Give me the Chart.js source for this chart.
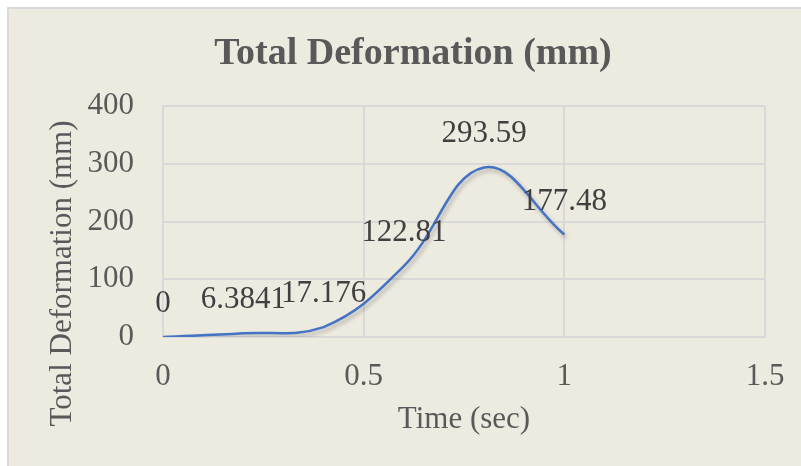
<!DOCTYPE html>
<html>
<head>
<meta charset="utf-8">
<script src="https://cdn.jsdelivr.net/npm/chart.js@4.4.1/dist/chart.umd.min.js"></script>
<style>
  html, body { margin: 0; padding: 0; background: #ffffff; }
  #wrap { position: relative; width: 801px; height: 466px; }
  canvas { display: block; }
</style>
</head>
<body>
<div id="wrap"><canvas id="c" width="801" height="466"></canvas></div>
<script>
// ---- data ----
const timeSec = [0, 0.2, 0.4, 0.6, 0.8, 1.0];
const deformationMm = [0, 6.3841, 17.176, 122.81, 293.59, 177.48];
const dataLabels = ['0', '6.3841', '17.176', '122.81', '293.59', '177.48'];
const xTickValues = [0, 0.5, 1, 1.5];
const xTickLabels = ['0', '0.5', '1', '1.5'];
const yTickValues = [0, 100, 200, 300, 400];
const chartTitle = 'Total Deformation (mm)';
const xAxisTitle = 'Time (sec)';
const yAxisTitle = 'Total Deformation (mm)';

const SERIF = "'Liberation Serif', 'Times New Roman', serif";
const TEXT_GREY = '#595959';
const GRID = '#D9D9D9';
const BG = '#EDEBE0';

const points = timeSec.map((t, i) => ({ x: t, y: deformationMm[i] }));

const frameBg = {
  id: 'frameBg',
  beforeDraw(chart) {
    const ctx = chart.ctx;
    ctx.save();
    ctx.fillStyle = '#ffffff';
    ctx.fillRect(0, 0, chart.width, chart.height);
    ctx.fillStyle = BG;
    ctx.fillRect(7, 7, chart.width - 7, chart.height - 7);
    ctx.strokeStyle = GRID;
    ctx.lineWidth = 2;
    ctx.beginPath();
    ctx.moveTo(8, chart.height);
    ctx.lineTo(8, 8);
    ctx.lineTo(chart.width, 8);
    ctx.stroke();
    ctx.restore();
  }
};

const lineShadow = {
  id: 'lineShadow',
  beforeDatasetDraw(chart) {
    const ctx = chart.ctx;
    ctx.save();
    ctx.shadowColor = 'rgba(0,0,0,0.28)';
    ctx.shadowBlur = 4;
    ctx.shadowOffsetX = 2;
    ctx.shadowOffsetY = 3;
  },
  afterDatasetDraw(chart) {
    chart.ctx.restore();
  }
};

const extraText = {
  id: 'extraText',
  afterDatasetsDraw(chart) {
    const ctx = chart.ctx;
    const xs = chart.scales.x, ys = chart.scales.y;
    ctx.save();
    // data labels above points
    ctx.font = '31px ' + SERIF;
    ctx.fillStyle = '#404040';
    ctx.textAlign = 'center';
    ctx.textBaseline = 'alphabetic';
    timeSec.forEach((t, i) => {
      const px = xs.getPixelForValue(t);
      const py = ys.getPixelForValue(deformationMm[i]);
      ctx.fillText(dataLabels[i], px, py - 25);
    });
    // y axis title
    ctx.translate(62.5, 273.5);
    ctx.rotate(-Math.PI / 2);
    ctx.textBaseline = 'middle';
    ctx.fillStyle = TEXT_GREY;
    ctx.fillText(yAxisTitle, 0, 0);
    ctx.restore();
  }
};

new Chart(document.getElementById('c'), {
  type: 'scatter',
  data: {
    datasets: [{
      label: 'Total Deformation',
      data: points,
      showLine: true,
      borderColor: '#4472C4',
      backgroundColor: '#4472C4',
      borderWidth: 2.5,
      pointRadius: 0,
      pointHoverRadius: 0,
      tension: 0.4,
      fill: false
    }]
  },
  options: {
    responsive: false,
    animation: false,
    layout: { padding: { left: 61, right: 36, top: 0, bottom: 0 } },
    plugins: {
      legend: { display: false },
      tooltip: { enabled: false },
      title: {
        display: true,
        text: chartTitle,
        color: TEXT_GREY,
        font: { family: SERIF, size: 38, weight: 'bold', lineHeight: 1.2 },
        padding: { top: 31, bottom: 29.4 }
      }
    },
    scales: {
      x: {
        type: 'linear',
        min: 0,
        max: 1.5,
        afterBuildTicks(scale) { scale.ticks = xTickValues.map(v => ({ value: v })); },
        afterFit(scale) {
          scale.height = 129;
          scale.paddingLeft = 0;
          scale.paddingRight = 0;
        },
        grid: { color: GRID, lineWidth: 2, drawTicks: false },
        border: { color: GRID, width: 2 },
        ticks: {
          color: TEXT_GREY,
          font: { family: SERIF, size: 31, lineHeight: 1.2 },
          padding: 21,
          maxRotation: 0,
          callback(value) {
            const i = xTickValues.indexOf(value);
            return i >= 0 ? xTickLabels[i] : String(value);
          }
        },
        title: {
          display: true,
          text: xAxisTitle,
          color: TEXT_GREY,
          font: { family: SERIF, size: 31, lineHeight: 1.2 },
          padding: { top: 0, bottom: 28 }
        }
      },
      y: {
        type: 'linear',
        min: 0,
        max: 400,
        afterBuildTicks(scale) { scale.ticks = yTickValues.map(v => ({ value: v })); },
        afterFit(scale) { scale.width = 102; },
        grid: { color: GRID, lineWidth: 2, drawTicks: false },
        border: { color: GRID, width: 2 },
        ticks: {
          color: TEXT_GREY,
          font: { family: SERIF, size: 31, lineHeight: 1.2 },
          padding: 29
        }
      }
    }
  },
  plugins: [frameBg, lineShadow, extraText]
});
</script>
</body>
</html>
